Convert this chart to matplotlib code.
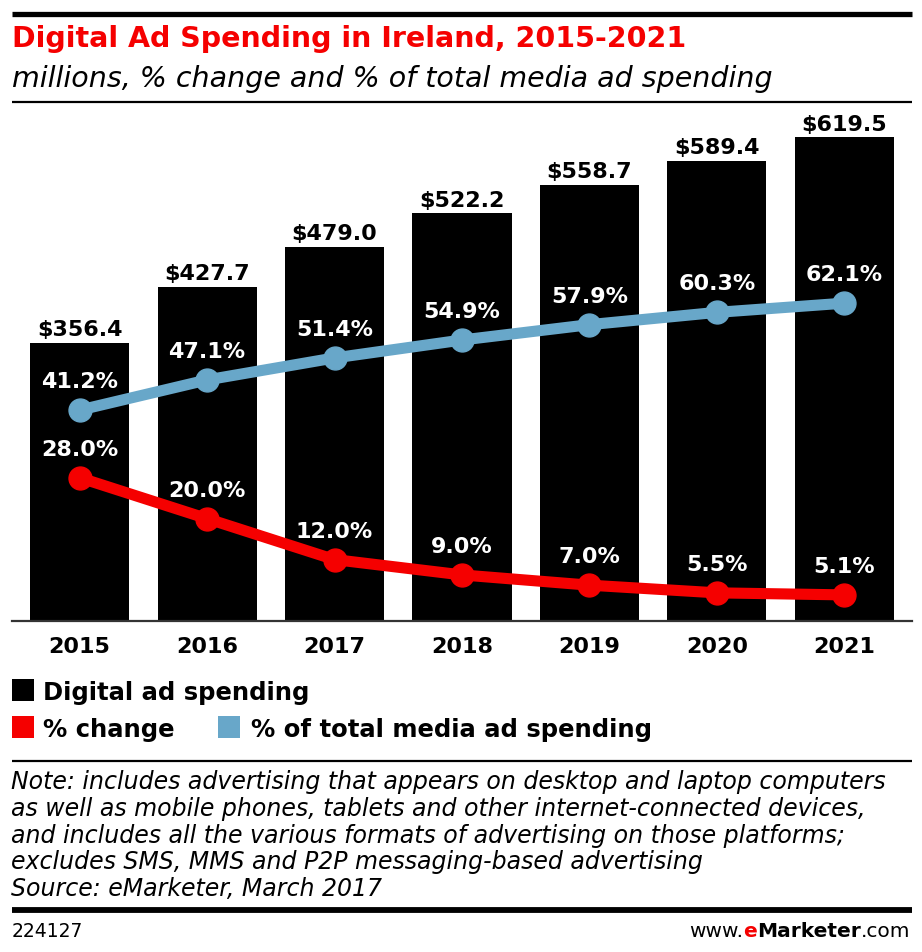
import matplotlib
matplotlib.use("Agg")
import matplotlib.pyplot as plt
from matplotlib.patches import Rectangle
from matplotlib.lines import Line2D
import numpy as np

plt.rcParams["font.family"] = ["DejaVu Sans"]

# ---- data ----
years = ["2015", "2016", "2017", "2018", "2019", "2020", "2021"]
spending = [356.4, 427.7, 479.0, 522.2, 558.7, 589.4, 619.5]
pct_change = [28.0, 20.0, 12.0, 9.0, 7.0, 5.5, 5.1]
pct_total = [41.2, 47.1, 51.4, 54.9, 57.9, 60.3, 62.1]

title = "Digital Ad Spending in Ireland, 2015-2021"
subtitle = "millions, % change and % of total media ad spending"
legend_labels = ["Digital ad spending", "% change", "% of total media ad spending"]
note_lines = [
    "Note: includes advertising that appears on desktop and laptop computers",
    "as well as mobile phones, tablets and other internet-connected devices,",
    "and includes all the various formats of advertising on those platforms;",
    "excludes SMS, MMS and P2P messaging-based advertising",
    "Source: eMarketer, March 2017",
]
chart_id = "224127"

RED = "#F50000"
BLUE = "#68A7C9"

W, H = 922, 953
fig = plt.figure(figsize=(W / 100, H / 100), dpi=100)


def fx(px):
    return px / W


def fy(py):
    return 1 - py / H


# ---- main axes ----
ax = fig.add_axes([fx(12), fy(622), 900 / W, 519 / H])
x = np.arange(len(years))
ax.bar(x, spending, width=0.777, color="black", zorder=1)
ax.set_xlim(-0.53, 6.53)
ax.set_ylim(0, 664.5)
for s in ["top", "left", "right"]:
    ax.spines[s].set_visible(False)
ax.spines["bottom"].set_linewidth(1.6)
ax.spines["bottom"].set_color("#333333")
ax.set_yticks([])
ax.set_xticks([])

for xi, yr in zip(x, years):
    ax.annotate(yr, xy=(xi, 0), xycoords=("data", "axes fraction"),
                xytext=(0, -22.3), textcoords="offset points",
                ha="center", va="baseline", fontsize=16, fontweight="bold",
                color="black", annotation_clip=False)

for xi, v in zip(x, spending):
    ax.annotate(f"${v:.1f}", xy=(xi, v), xytext=(0, 5.4),
                textcoords="offset points", ha="center", va="baseline",
                fontsize=16, fontweight="bold", color="black")

ax2 = ax.twinx()
ax2.set_ylim(0, 101.4)
for s in ["top", "left", "right", "bottom"]:
    ax2.spines[s].set_visible(False)
ax2.set_yticks([])

ax2.plot(x, pct_total, color=BLUE, lw=8, marker="o", ms=16.5,
         solid_capstyle="round", solid_joinstyle="round", zorder=3)
ax2.plot(x, pct_change, color=RED, lw=8, marker="o", ms=16.5,
         solid_capstyle="round", solid_joinstyle="round", zorder=3)

for xi, v in zip(x, pct_total):
    ax2.annotate(f"{v:.1f}%", xy=(xi, v), xytext=(0, 16.5),
                 textcoords="offset points", ha="center", va="baseline",
                 fontsize=16, fontweight="bold", color="white", zorder=4)
for xi, v in zip(x, pct_change):
    ax2.annotate(f"{v:.1f}%", xy=(xi, v), xytext=(0, 16.5),
                 textcoords="offset points", ha="center", va="baseline",
                 fontsize=16, fontweight="bold", color="white", zorder=4)

# ---- header ----
def hline(y, lw, color="black"):
    fig.add_artist(Line2D([fx(12), fx(912)], [fy(y), fy(y)], lw=lw,
                          color=color, solid_capstyle="butt"))


hline(14.5, 3.8)
fig.text(fx(12), fy(47), title, color=RED, fontsize=20.5, fontweight="bold",
         ha="left", va="baseline")
fig.text(fx(12), fy(87), subtitle, color="black", fontsize=20.5,
         style="italic", ha="left", va="baseline")
hline(102.5, 1.6)

# ---- legend ----
def square(x0, y0, color):
    fig.add_artist(Rectangle((fx(x0), fy(y0 + 22)), 22 / W, 22 / H,
                             color=color, lw=0))


square(12, 680, "black")
fig.text(fx(43), fy(700), legend_labels[0], fontsize=17.5, fontweight="bold",
         ha="left", va="baseline")
square(12, 717, RED)
fig.text(fx(43), fy(737), legend_labels[1], fontsize=17.5, fontweight="bold",
         ha="left", va="baseline")
square(218, 717, BLUE)
fig.text(fx(251), fy(737), legend_labels[2], fontsize=17.5, fontweight="bold",
         ha="left", va="baseline")

# ---- notes ----
hline(762, 1.6)
for i, line in enumerate(note_lines):
    fig.text(fx(11), fy(789 + i * 26.8), line, fontsize=17, style="italic",
             ha="left", va="baseline")

hline(911, 4.2)
fig.text(fx(12), fy(937), chart_id, fontsize=13.5, ha="left", va="baseline")

# footer brand, composed right-to-left
renderer = fig.canvas.get_renderer()
pieces = [(".com", "normal", "black"), ("Marketer", "bold", "black"),
          ("e", "bold", RED), ("www.", "normal", "black")]
right = 910
for txt, wt, col in pieces:
    t = fig.text(fx(right), fy(937), txt, fontsize=14.5, fontweight=wt,
                 color=col, ha="right", va="baseline")
    w = t.get_window_extent(renderer).width
    right -= w

fig.savefig("out.png", dpi=100)
